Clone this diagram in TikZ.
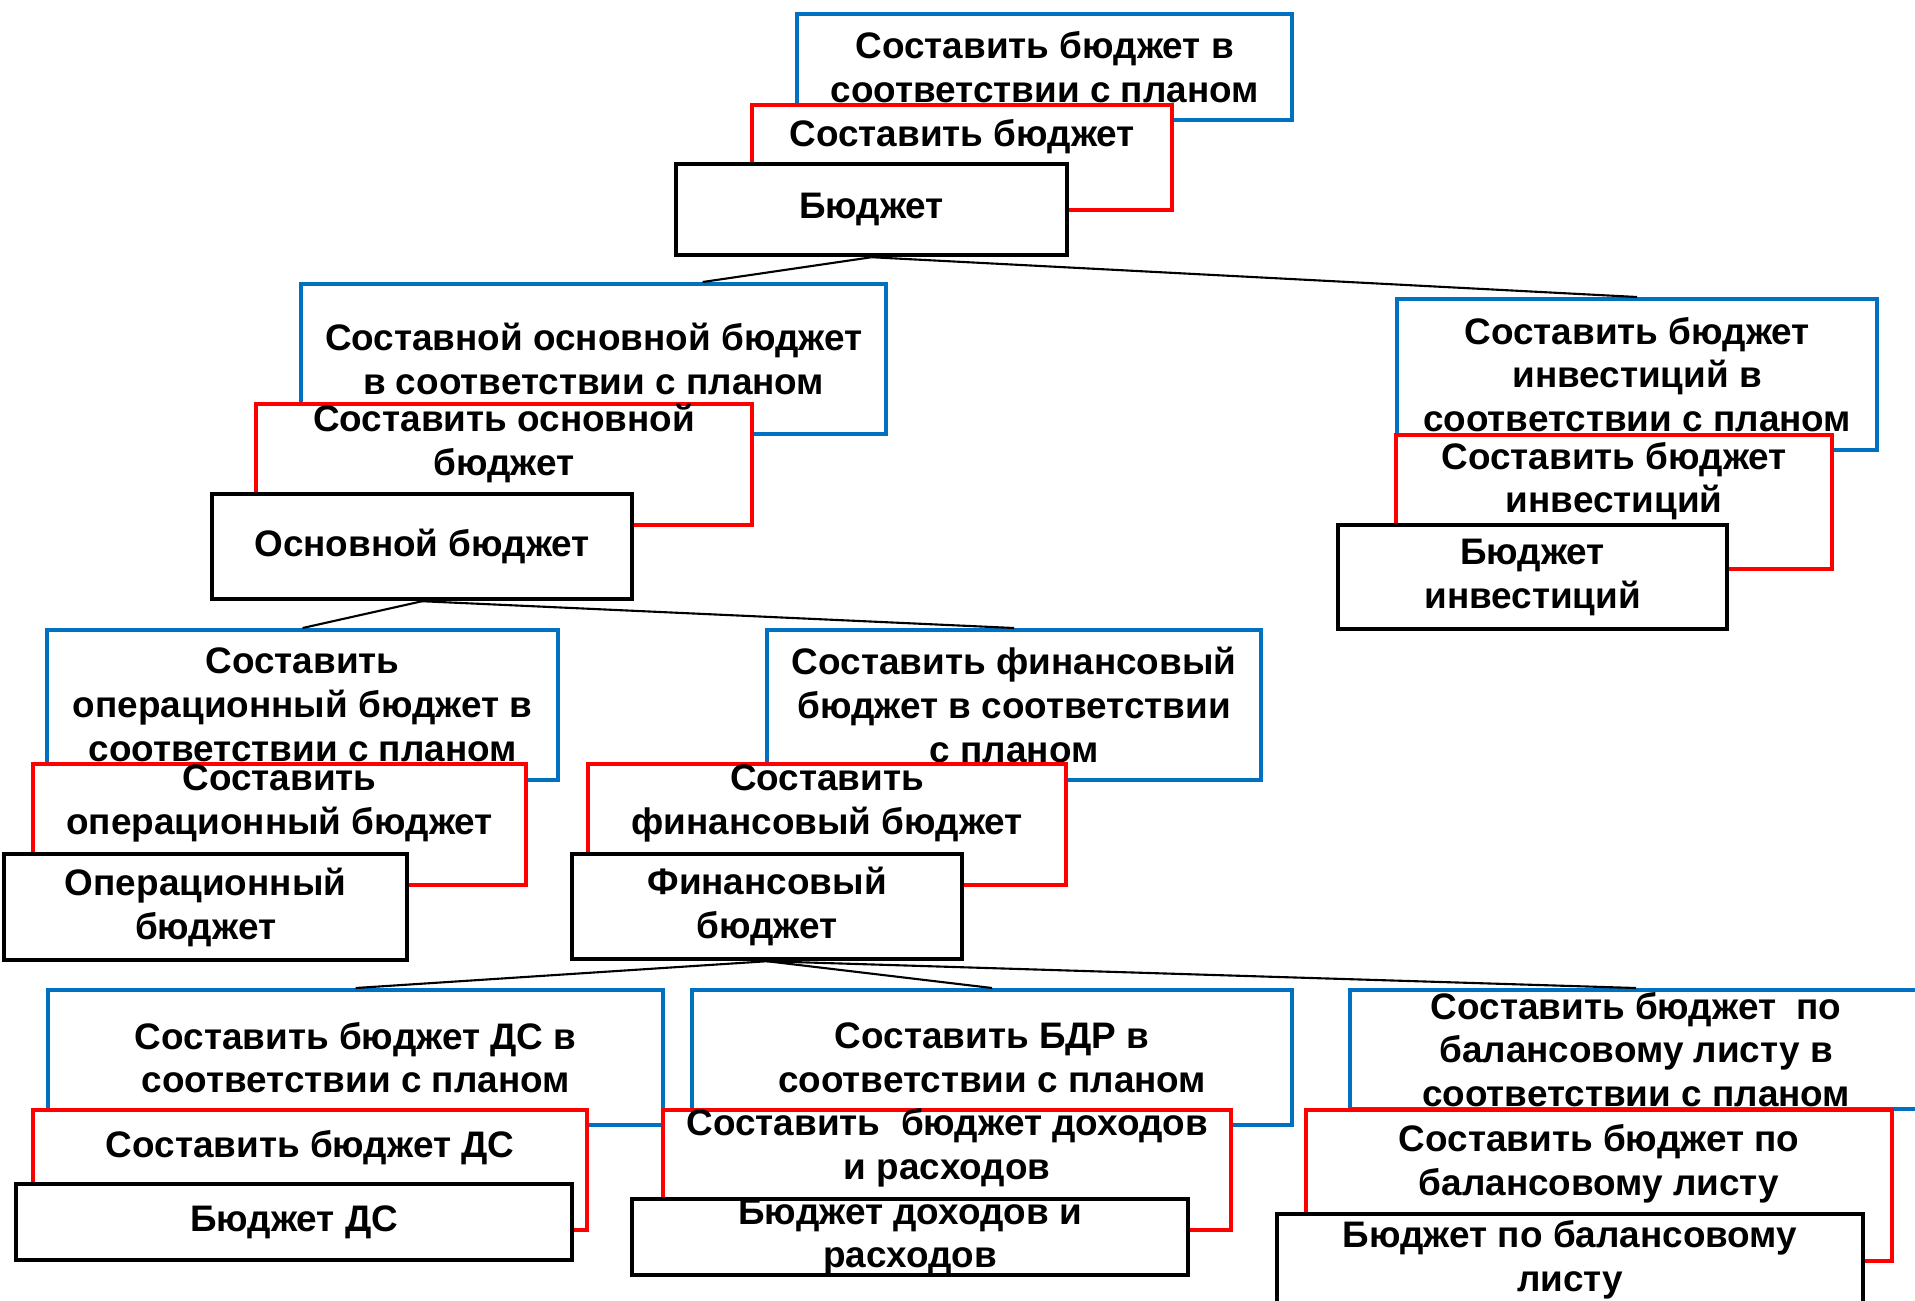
\documentclass[tikz,border=0pt]{standalone}
\usepackage{fontspec}
\setmainfont{Liberation Sans}
\usepackage{tikz}
\usetikzlibrary{calc}
\definecolor{planblue}{HTML}{0070C0}
\definecolor{taskred}{HTML}{FF0000}
\tikzset{
	thick,
	every edge/.style={draw=black, line width=0.6pt},
}

\begin{document}
\begin{tikzpicture}
	[x=0.1mm, y=-0.1mm,
		% STYLES
		% The box style is the frame shared by all boxes
		box/.style={rectangle, fill=white, line width=1.2pt, anchor=north west, inner sep=0pt},
		plan/.style={box, draw=planblue},
		task/.style={box, draw=taskred},
		budget/.style={box, draw=black},
		% The boxtext style is used for the text inside the boxes
		boxtext/.style={align=center, inner sep=0pt, font=\fontsize{10.5}{12.5}\selectfont\bfseries}]

	\useasboundingbox (0,0) rectangle (1915,1300);

	% Budget
	\node [plan, minimum width=49.5mm, minimum height=10.6mm] (p1) at (795,12) {};
	\node [boxtext] (p1t) at (p1) {Составить бюджет в\\соответствии с планом};
	\node [task, minimum width=42.0mm, minimum height=10.5mm] (s1) at (750,103) {};
	\node [boxtext] (s1t) at ([yshift=2.1mm]s1.center) {Составить бюджет};
	\node [budget, minimum width=39.1mm, minimum height=9.1mm] (b1) at (674,162) {};
	\node [boxtext] (b1t) at (b1) {Бюджет};

	% Main budget
	\node [plan, minimum width=58.5mm, minimum height=15.0mm] (p2) at (299,282) {};
	\node [boxtext] (p2t) at (p2) {Составной основной бюджет\\в соответствии с планом};
	\node [task, minimum width=49.6mm, minimum height=12.1mm] (s2) at (254,402) {};
	\node [boxtext] (s2t) at ([yshift=2.1mm]s2.center) {Составить основной\\бюджет};
	\node [budget, minimum width=42.0mm, minimum height=10.5mm] (b2) at (210,492) {};
	\node [boxtext] (b2t) at (b2) {Основной бюджет};

	% Investment budget
	\node [plan, minimum width=48.0mm, minimum height=15.1mm] (p3) at (1395,297) {};
	\node [boxtext] (p3t) at (p3) {Составить бюджет\\инвестиций в\\соответствии с планом};
	\node [task, minimum width=43.6mm, minimum height=13.4mm] (s3) at (1394,433) {};
	\node [boxtext] (s3t) at ([yshift=2.1mm]s3.center) {Составить бюджет\\инвестиций};
	\node [budget, minimum width=38.9mm, minimum height=10.4mm] (b3) at (1336,523) {};
	\node [boxtext] (b3t) at (b3) {Бюджет\\инвестиций};

	% Operating budget
	\node [plan, minimum width=51.1mm, minimum height=15.0mm] (p4) at (45,628) {};
	\node [boxtext] (p4t) at (p4) {Составить\\операционный бюджет в\\соответствии с планом};
	\node [task, minimum width=49.3mm, minimum height=12.1mm] (s4) at (31,762) {};
	\node [boxtext] (s4t) at ([yshift=2.1mm]s4.center) {Составить\\операционный бюджет};
	\node [budget, minimum width=40.3mm, minimum height=10.6mm] (b4) at (2,852) {};
	\node [boxtext] (b4t) at (b4) {Операционный\\бюджет};

	% Financial budget
	\node [plan, minimum width=49.4mm, minimum height=15.0mm] (p5) at (765,628) {};
	\node [boxtext] (p5t) at (p5) {Составить финансовый\\бюджет в соответствии\\с планом};
	\node [task, minimum width=47.8mm, minimum height=12.1mm] (s5) at (586,762) {};
	\node [boxtext] (s5t) at ([yshift=2.1mm]s5.center) {Составить\\финансовый бюджет};
	\node [budget, minimum width=39.0mm, minimum height=10.5mm] (b5) at (570,852) {};
	\node [boxtext] (b5t) at (b5) {Финансовый\\бюджет};

	% Cash budget
	\node [plan, minimum width=61.5mm, minimum height=13.5mm] (p6) at (46,988) {};
	\node [boxtext] (p6t) at (p6) {Составить бюджет ДС в\\соответствии с планом};
	\node [task, minimum width=55.4mm, minimum height=12.0mm] (s6) at (31,1108) {};
	\node [boxtext] (s6t) at ([yshift=2.2mm]s6.center) {Составить бюджет ДС};
	\node [budget, minimum width=55.6mm, minimum height=7.6mm] (b6) at (14,1182) {};
	\node [boxtext] (b6t) at (b6) {Бюджет ДС};

	% Income and expense budget
	\node [plan, minimum width=60.0mm, minimum height=13.5mm] (p7) at (690,988) {};
	\node [boxtext] (p7t) at (p7) {Составить БДР в\\соответствии с планом};
	\node [task, minimum width=56.8mm, minimum height=12.0mm] (s7) at (661,1108) {};
	\node [boxtext] (s7t) at ([yshift=2.2mm]s7.center) {Составить~ бюджет доходов\\и расходов};
	\node [budget, minimum width=55.6mm, minimum height=7.6mm] (b7) at (630,1197) {};
	\node [boxtext] (b7t) at (b7) {Бюджет доходов и\\расходов};

	% Balance sheet budget
	\node [plan, minimum width=57.2mm, minimum height=11.9mm] (p8) at (1348,988) {};
	\node [boxtext] (p8t) at (p8) {Составить бюджет~ по\\балансовому листу в\\соответствии с планом};
	\node [task, minimum width=58.6mm, minimum height=15.1mm] (s8) at (1304,1108) {};
	\node [boxtext] (s8t) at ([yshift=2.2mm]s8.center) {Составить бюджет по\\балансовому листу};
	\node [budget, minimum width=58.6mm, minimum height=9.2mm] (b8) at (1275,1212) {};
	\node [boxtext] (b8t) at (b8) {Бюджет по балансовому\\листу};

	\path
	(b1.south) edge ($(p2.north west)!0.685!(p2.north east)$)
	(b1.south) edge (p3.north)
	(b2.south) edge (p4.north)
	(b2.south) edge (p5.north)
	(b5.south) edge (p6.north)
	(b5.south) edge (p7.north)
	(b5.south) edge (p8.north);
\end{tikzpicture}
\end{document}
